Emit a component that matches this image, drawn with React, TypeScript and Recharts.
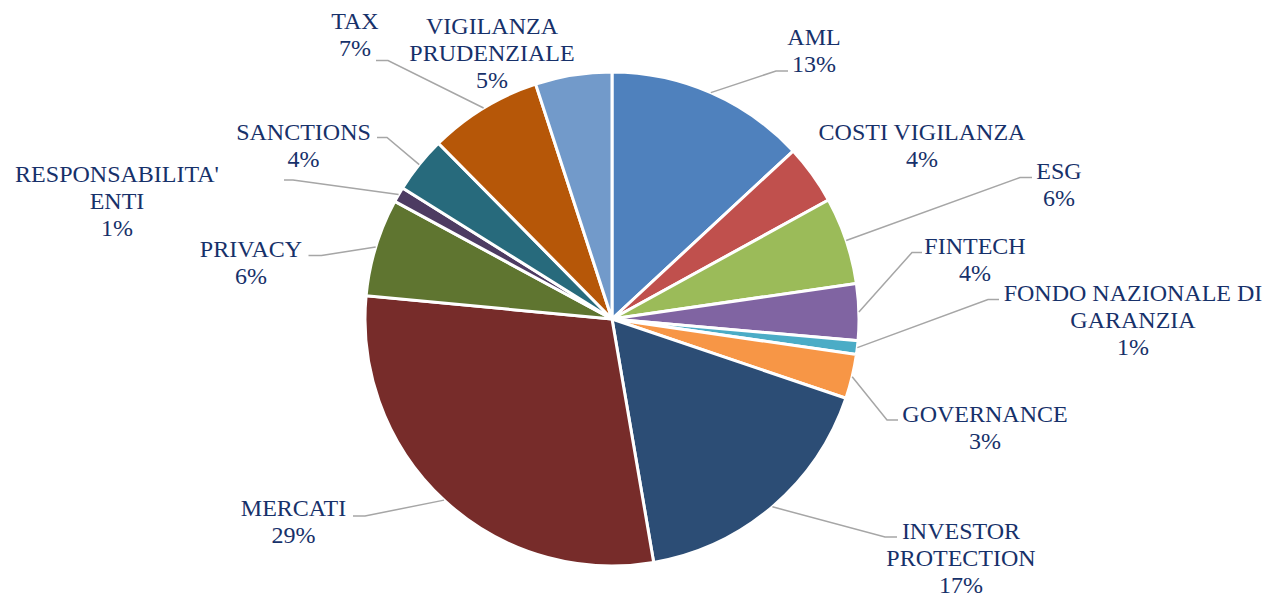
import React from 'react';
import { PieChart, Pie, Cell } from 'recharts';

const categories = [
  'AML',
  'COSTI VIGILANZA',
  'ESG',
  'FINTECH',
  'FONDO NAZIONALE DI GARANZIA',
  'GOVERNANCE',
  'INVESTOR PROTECTION',
  'MERCATI',
  'PRIVACY',
  "RESPONSABILITA' ENTI",
  'SANCTIONS',
  'TAX',
  'VIGILANZA PRUDENZIALE',
];

const values = [13.1, 3.9, 5.7, 3.7, 0.9, 2.9, 17.1, 29.2, 6.4, 1.0, 3.7, 7.4, 5.0];

const labelLines: string[][] = [
  ['AML'],
  ['COSTI VIGILANZA'],
  ['ESG'],
  ['FINTECH'],
  ['FONDO NAZIONALE DI', 'GARANZIA'],
  ['GOVERNANCE'],
  ['INVESTOR', 'PROTECTION'],
  ['MERCATI'],
  ['PRIVACY'],
  ["RESPONSABILITA'", 'ENTI'],
  ['SANCTIONS'],
  ['TAX'],
  ['VIGILANZA', 'PRUDENZIALE'],
];

const colors = [
  '#4F81BD', '#C0504D', '#9BBB59', '#8064A2', '#4BACC6', '#F79646', '#2C4D75',
  '#772C2A', '#5F7530', '#4D3B62', '#276A7C', '#B65708', '#729ACA',
];

// label layout: text center x, first-line baseline y, optional leader elbow (ex, ey) and end x (hx)
type Layout = { tx: number; by: number; leader?: { ex: number; ey: number; hx: number } };
const labelLayout: Layout[] = [
  { tx: 814, by: 44.5, leader: { ex: 776, ey: 71, hx: 788 } },
  { tx: 922, by: 140 },
  { tx: 1059, by: 178.5, leader: { ex: 1020, ey: 177.5, hx: 1032 } },
  { tx: 975, by: 254, leader: { ex: 912, ey: 252.5, hx: 922 } },
  { tx: 1133, by: 300.5, leader: { ex: 988, ey: 299.5, hx: 999 } },
  { tx: 985, by: 421.5, leader: { ex: 887, ey: 420, hx: 898 } },
  { tx: 961, by: 538.5, leader: { ex: 885, ey: 537, hx: 897 } },
  { tx: 293.5, by: 516, leader: { ex: 365, ey: 516, hx: 353 } },
  { tx: 251, by: 256.5, leader: { ex: 321.5, ey: 255.5, hx: 308.5 } },
  { tx: 117, by: 181.5, leader: { ex: 293, ey: 180, hx: 284 } },
  { tx: 303.5, by: 140, leader: { ex: 387, ey: 137.5, hx: 377 } },
  { tx: 355, by: 28.5, leader: { ex: 388, ey: 60.5, hx: 376 } },
  { tx: 492, by: 33.5 },
];

const data = categories.map((name, i) => ({ name, value: values[i] }));

const RAD = Math.PI / 180;
const LINE_H = 27.4;
const TEXT_COLOR = '#17316A';
const FONT = '"Liberation Serif", "Times New Roman", Times, serif';

const renderLabel = (props: any) => {
  const { cx, cy, midAngle, outerRadius, percent, index } = props;
  const layout = labelLayout[index];
  const lines = [...labelLines[index], `${Math.round(percent * 100)}%`];
  const sx = cx + outerRadius * Math.cos(-midAngle * RAD);
  const sy = cy + outerRadius * Math.sin(-midAngle * RAD);
  return (
    <g key={`lbl-${index}`}>
      {layout.leader && (
        <polyline
          points={`${sx},${sy} ${layout.leader.ex},${layout.leader.ey} ${layout.leader.hx},${layout.leader.ey}`}
          fill="none"
          stroke="#A6A6A6"
          strokeWidth={1.5}
        />
      )}
      <text x={layout.tx} y={layout.by} textAnchor="middle" fill={TEXT_COLOR} fontFamily={FONT} fontSize={24}>
        {lines.map((l, k) => (
          <tspan key={k} x={layout.tx} y={layout.by + k * LINE_H}>
            {l}
          </tspan>
        ))}
      </text>
    </g>
  );
};

export default function App() {
  return (
    <div style={{ position: 'absolute', left: 0, top: 0, width: 1264, height: 595, background: '#fff' }}>
      <PieChart width={1264} height={595} margin={{ top: 0, right: 0, bottom: 0, left: 0 }}>
        <Pie
          data={data}
          dataKey="value"
          nameKey="name"
          cx={612}
          cy={319}
          outerRadius={247}
          startAngle={90}
          endAngle={-270}
          stroke="#FFFFFF"
          strokeWidth={3}
          label={renderLabel}
          labelLine={false}
          isAnimationActive={false}
        >
          {data.map((d, i) => (
            <Cell key={d.name} fill={colors[i]} />
          ))}
        </Pie>
      </PieChart>
    </div>
  );
}
